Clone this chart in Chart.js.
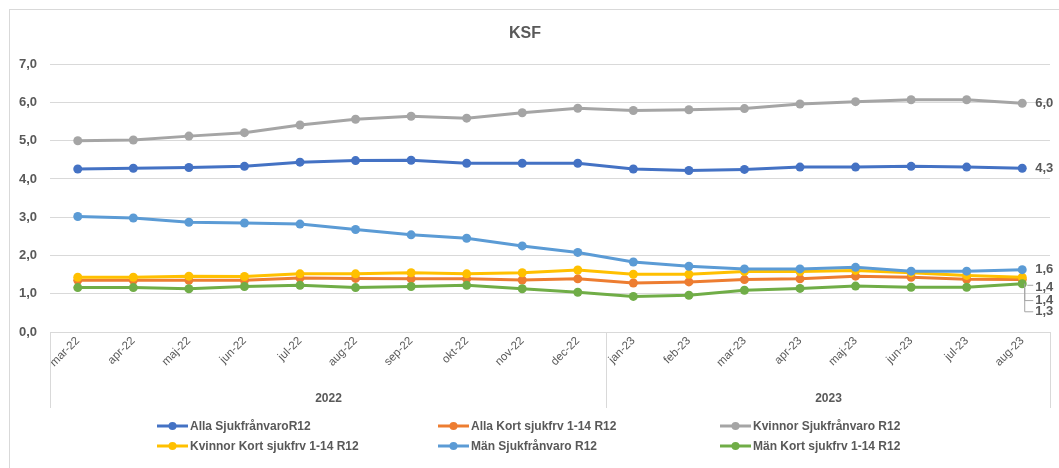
<!DOCTYPE html>
<html>
<head>
<meta charset="utf-8">
<script src="https://cdn.jsdelivr.net/npm/chart.js@4/dist/chart.umd.min.js"></script>
<style>
  html, body { margin: 0; padding: 0; background: #fff; }
  #wrap { width: 1059px; height: 468px; position: relative; }
</style>
</head>
<body>
<div id="wrap"><canvas id="ksfChart"></canvas></div>
<script>
const months = [
  "mar-22", "apr-22", "maj-22", "jun-22", "jul-22", "aug-22", "sep-22", "okt-22", "nov-22", "dec-22",
  "jan-23", "feb-23", "mar-23", "apr-23", "maj-23", "jun-23", "jul-23", "aug-23",
];
const years = ["2022", "2023"];
const monthsPerYear = [10, 8];

const allaSjuk = [4.26, 4.28, 4.30, 4.33, 4.44, 4.48, 4.49, 4.41, 4.41, 4.41, 4.26, 4.22, 4.25, 4.31, 4.31, 4.33, 4.31, 4.28];
const allaKort = [1.35, 1.35, 1.35, 1.35, 1.41, 1.40, 1.39, 1.39, 1.36, 1.39, 1.28, 1.31, 1.37, 1.39, 1.46, 1.43, 1.38, 1.37];
const kvinnorSjuk = [5.00, 5.02, 5.12, 5.21, 5.41, 5.56, 5.64, 5.59, 5.73, 5.85, 5.79, 5.81, 5.84, 5.96, 6.02, 6.07, 6.07, 5.98];
const kvinnorKort = [1.43, 1.43, 1.46, 1.45, 1.52, 1.52, 1.55, 1.52, 1.55, 1.62, 1.51, 1.51, 1.58, 1.58, 1.61, 1.55, 1.48, 1.43];
const manSjuk = [3.02, 2.98, 2.87, 2.85, 2.82, 2.68, 2.54, 2.45, 2.25, 2.08, 1.83, 1.72, 1.65, 1.65, 1.69, 1.59, 1.59, 1.63];
const manKort = [1.16, 1.16, 1.13, 1.19, 1.22, 1.16, 1.19, 1.22, 1.13, 1.04, 0.93, 0.96, 1.09, 1.14, 1.20, 1.17, 1.17, 1.26];

const seriesNames = [
  "Alla SjukfrånvaroR12",
  "Alla Kort sjukfrv 1-14 R12",
  "Kvinnor Sjukfrånvaro R12",
  "Kvinnor Kort sjukfrv 1-14 R12",
  "Män Sjukfrånvaro R12",
  "Män Kort sjukfrv 1-14 R12",
];
const seriesData = [allaSjuk, allaKort, kvinnorSjuk, kvinnorKort, manSjuk, manKort];
const colors = ["#4472C4", "#ED7D31", "#A5A5A5", "#FFC000", "#5B9BD5", "#70AD47"];

const FONT = "'Liberation Sans', Arial, sans-serif";
const TEXT = "#595959";
const GRID = "#d9d9d9";

const fmt = (v) => v.toFixed(1).replace(".", ",");

// white background + light frame like the excel chart area
const frame = {
  id: "frame",
  beforeDraw(chart) {
    const { ctx, width, height } = chart;
    ctx.save();
    ctx.fillStyle = "#fff";
    ctx.fillRect(0, 0, width, height);
    ctx.strokeStyle = GRID;
    ctx.lineWidth = 1;
    ctx.strokeRect(9.5, 9.5, width + 20, height + 20);
    ctx.restore();
  },
};

// second level of the category axis: year names + separators
const yearGroups = {
  id: "yearGroups",
  afterDraw(chart) {
    const { ctx, chartArea } = chart;
    const x = chart.scales.x;
    const half = (x.getPixelForValue(1) - x.getPixelForValue(0)) / 2;
    const top = chartArea.bottom;
    ctx.save();
    ctx.strokeStyle = GRID;
    ctx.lineWidth = 1;
    ctx.fillStyle = TEXT;
    ctx.font = "bold 12px " + FONT;
    ctx.textAlign = "center";
    ctx.textBaseline = "middle";
    let start = 0;
    years.forEach((yr, i) => {
      const end = start + monthsPerYear[i] - 1;
      const left = Math.round(x.getPixelForValue(start) - half) + 0.5;
      const right = Math.round(x.getPixelForValue(end) + half) + 0.5;
      ctx.beginPath();
      ctx.moveTo(left, top);
      ctx.lineTo(left, top + 76);
      if (i === years.length - 1) {
        ctx.moveTo(right, top);
        ctx.lineTo(right, top + 76);
      }
      ctx.stroke();
      ctx.fillText(yr, (left + right) / 2, top + 67);
      start = end + 1;
    });
    ctx.restore();
  },
};

// value labels at the last point of every series
const endLabels = {
  id: "endLabels",
  afterDatasetsDraw(chart, args, opts) {
    const { ctx } = chart;
    ctx.save();
    ctx.font = "bold 13px " + FONT;
    ctx.fillStyle = TEXT;
    ctx.textBaseline = "middle";
    ctx.strokeStyle = "#a5a5a5";
    ctx.lineWidth = 1;
    chart.data.datasets.forEach((ds, i) => {
      const meta = chart.getDatasetMeta(i);
      const pt = meta.data[meta.data.length - 1];
      const tx = pt.x + 13;
      const dy = opts.shift[i] || 0;
      const ty = pt.y + dy;
      if (dy > 12) {
        ctx.beginPath();
        ctx.moveTo(pt.x + 2.5, pt.y + 4);
        ctx.lineTo(pt.x + 2.5, ty);
        ctx.lineTo(tx - 2, ty);
        ctx.stroke();
      } else if (dy > 0) {
        ctx.beginPath();
        ctx.moveTo(pt.x + 5, ty - 2);
        ctx.lineTo(tx - 2, ty - 2);
        ctx.stroke();
      }
      ctx.fillText(fmt(ds.data[ds.data.length - 1]), tx, ty);
    });
    ctx.restore();
  },
};

// excel style legend, 3 columns x 2 rows
const gridLegend = {
  id: "gridLegend",
  afterDraw(chart) {
    const { ctx } = chart;
    const cols = [157, 438, 720];
    const rows = [426, 446];
    ctx.save();
    ctx.font = "bold 12px " + FONT;
    ctx.textBaseline = "middle";
    ctx.fillStyle = TEXT;
    chart.data.datasets.forEach((ds, i) => {
      const x = cols[i % 3];
      const y = rows[Math.floor(i / 3)];
      ctx.strokeStyle = ds.borderColor;
      ctx.lineWidth = 3;
      ctx.beginPath();
      ctx.moveTo(x, y);
      ctx.lineTo(x + 31, y);
      ctx.stroke();
      ctx.fillStyle = ds.borderColor;
      ctx.beginPath();
      ctx.arc(x + 15.5, y, 4, 0, Math.PI * 2);
      ctx.fill();
      ctx.fillStyle = TEXT;
      ctx.fillText(ds.label, x + 33, y + 1);
    });
    ctx.restore();
  },
};

new Chart(document.getElementById("ksfChart"), {
  type: "line",
  data: {
    labels: months,
    datasets: seriesNames.map((name, i) => ({
      label: name,
      data: seriesData[i],
      borderColor: colors[i],
      backgroundColor: colors[i],
      pointBackgroundColor: colors[i],
      pointBorderWidth: 0,
      pointRadius: 4.5,
      borderWidth: 3,
      tension: 0,
      order: seriesNames.length - i,
    })),
  },
  options: {
    responsive: true,
    maintainAspectRatio: false,
    animation: false,
    layout: { padding: { top: 8, left: 0, right: 9, bottom: 56 } },
    plugins: {
      legend: { display: false },
      tooltip: { enabled: false },
      title: {
        display: true,
        text: "KSF",
        color: TEXT,
        font: { family: FONT, size: 16, weight: "bold" },
        padding: { top: 16, bottom: 21 },
      },
      endLabels: { shift: [0, 21, 0, 10, 0, 28] },
    },
    scales: {
      x: {
        offset: true,
        grid: { display: false },
        border: { display: true, color: GRID },
        ticks: {
          autoSkip: false,
          maxRotation: 45,
          minRotation: 45,
          padding: -6,
          color: TEXT,
          font: { family: FONT, size: 11.5 },
        },
        afterFit: (scale) => {
          scale.height = 80;
        },
      },
      y: {
        min: 0,
        max: 7,
        grid: { color: GRID, drawTicks: false },
        border: { display: false },
        ticks: {
          stepSize: 1,
          padding: 13,
          color: TEXT,
          font: { family: FONT, size: 13, weight: "bold" },
          callback: (v) => fmt(v),
        },
        afterFit: (scale) => {
          scale.width = 50;
        },
      },
    },
  },
  plugins: [frame, yearGroups, endLabels, gridLegend],
});
</script>
</body>
</html>
